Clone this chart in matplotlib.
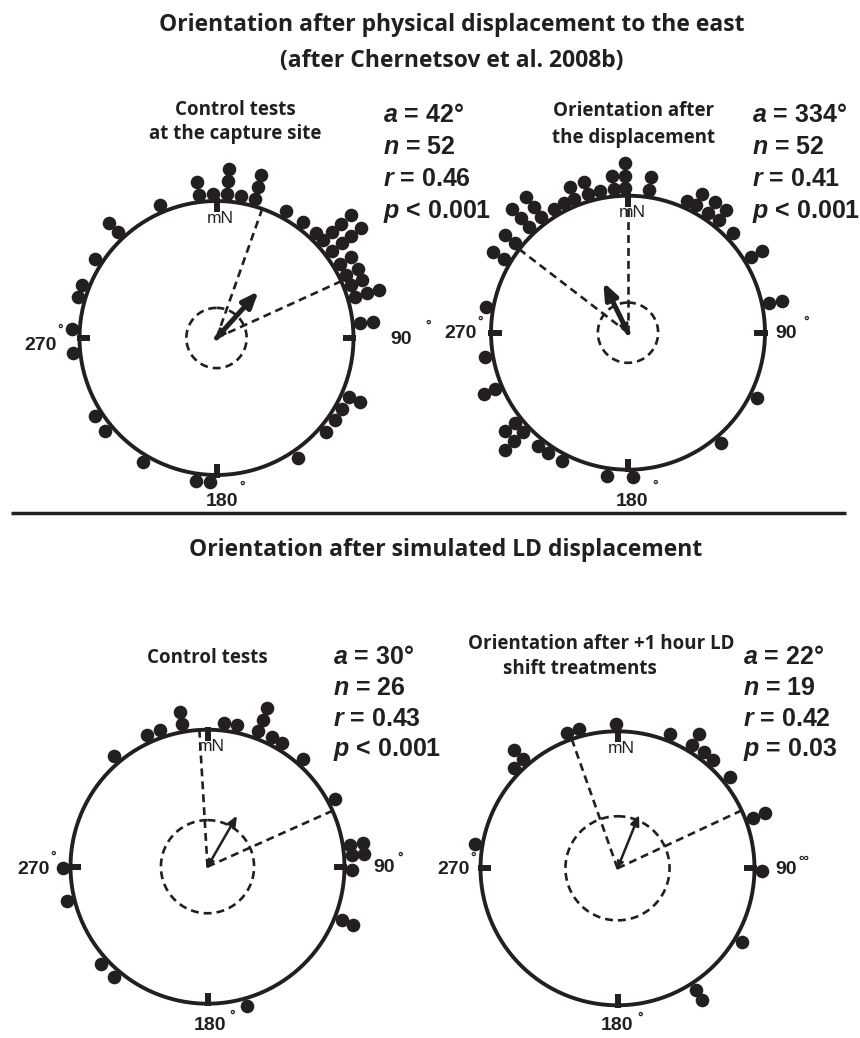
import numpy as np
import matplotlib.pyplot as plt

plt.rcParams['mathtext.fontset'] = 'custom'
plt.rcParams['mathtext.it'] = 'Liberation Sans:italic:bold'
plt.rcParams['mathtext.rm'] = 'Liberation Sans:bold'

ink = '#231f20'

# Stacked headings of individual birds: direction of each stack (deg) and number of birds in it
p1_dir = [303, 317, 337, 353, 358.7, 4.3, 9.8, 15.3, 28.7, 36.7, 43.4, 47.5, 52.8, 59, 64, 68.3,
          73.5, 84, 114, 119.5, 124.6, 130.7, 145.8, 182.7, 188, 210.7, 230.2, 237.2, 264,
          273.4, 286.5, 291.7]
p1_cnt = [1, 2, 1, 2, 1, 3, 1, 3, 1, 1, 1, 4, 4, 2, 2, 2,
          3, 2, 2, 1, 1, 1, 1, 1, 1, 1, 1, 1, 1,
          1, 1, 1]

p2_dir = [359, 354.3, 8.5, 348.9, 343.8, 338.2, 333.7, 329.2, 323, 317, 308.6, 300.8,
          23.9, 28.2, 33.8, 38.8, 46.5, 58.5, 78.2, 116.7, 139.9, 178.2, 188.3, 207.2,
          213.5, 218.6, 226.4, 231.3, 246.9, 260.4, 280.2]
p2_cnt = [3, 2, 2, 1, 2, 2, 1, 1, 3, 3, 2, 2,
          1, 2, 2, 2, 1, 2, 2, 1, 1, 1, 1, 1,
          1, 1, 3, 2, 2, 1, 1]

p3_dir = [319.7, 335.3, 340.7, 349.8, 6.6, 11.8, 20.6, 26.3, 31.2, 41.6, 62, 81.3, 85.5,
          91.3, 111.7, 164, 220.4, 227.7, 256.3, 269.4]
p3_cnt = [1, 1, 1, 2, 1, 1, 3, 1, 1, 1, 1, 2, 2,
          1, 2, 1, 1, 1, 1, 1]

p4_dir = [359.4, 344.4, 339.6, 319, 314.1, 21.3, 31.1, 36.6, 41.3, 51, 69.5, 90.9, 120.7,
          147.3, 279.7]
p4_cnt = [1, 1, 1, 2, 1, 1, 2, 1, 1, 1, 2, 1, 1,
          2, 1]

# Group statistics
mean_dir = [42, 334, 30, 22]
mean_r = [0.46, 0.41, 0.43, 0.42]
ci_lo = [19.5, 307.5, 356.6, 340.5]
ci_hi = [65.5, 360, 65.9, 65]
crit_r = [0.22, 0.22, 0.34, 0.38]
n_birds = [52, 52, 26, 19]
p_text = ['< 0.001', '< 0.001', '< 0.001', '= 0.03']
subtitles = [['Control tests', 'at the capture site'], ['Orientation after', 'the displacement'],
             ['Control tests'], ['Orientation after +1 hour LD', 'shift treatments']]

dirs = [p1_dir, p2_dir, p3_dir, p4_dir]
cnts = [p1_cnt, p2_cnt, p3_cnt, p4_cnt]

# Layout in pixels (figure is 860 x 1038)
W, H = 860, 1038
centers = [(216.5, 338), (628, 332.7), (207.5, 866.7), (617.5, 868.3)]
R = 137
stat_xy = [(383, 121.7, 32.2), (751.7, 121.7, 32.2), (333.3, 664, 30.8), (743.3, 664, 30.8)]
sub_xy = [[(235, 110), (235, 134)], [(634, 111), (634, 138)],
          [(207, 658)], [(601, 644), (580, 669)]]

fig = plt.figure(figsize=(8.6, 10.38), dpi=100)
bg = fig.add_axes([0, 0, 1, 1])
bg.set_xlim(0, W)
bg.set_ylim(H, 0)
bg.axis('off')

title_font = dict(family=['Open Sans', 'DejaVu Sans'], weight='bold', color=ink)
lab_font = dict(family=['Liberation Sans', 'DejaVu Sans'], weight='bold', color=ink)

bg.text(452, 25, 'Orientation after physical displacement to the east', fontsize=16.5,
        ha='center', va='center', **title_font)
bg.text(452, 61, '(after Chernetsov et al. 2008b)', fontsize=16.5, ha='center', va='center',
        **title_font)
bg.text(446, 550, 'Orientation after simulated LD displacement', fontsize=16.5,
        ha='center', va='center', **title_font)
bg.plot([11, 846], [512.7, 512.7], color=ink, lw=2.5, solid_capstyle='butt')

dash = (0, (3.0, 1.9))
full = np.linspace(0, 2 * np.pi, 400)

for i in range(4):
    cx, cy = centers[i]
    ax = fig.add_axes([(cx - R) / W, 1 - (cy + R) / H, 2 * R / W, 2 * R / H], projection='polar')
    ax.set_theta_zero_location('N')
    ax.set_theta_direction(-1)
    ax.axis('off')

    # outer circle and cardinal ticks
    ax.plot(full, np.ones_like(full), color=ink, lw=2.8, clip_on=False)
    for t in [0, 90, 180, 270]:
        ax.plot([np.deg2rad(t)] * 2, [0.92, 1.02], color=ink, lw=4.3, solid_capstyle='butt',
                clip_on=False)

    # stacked dots
    th, rr = [], []
    for d, c in zip(dirs[i], cnts[i]):
        for k in range(c):
            th.append(np.deg2rad(d))
            rr.append(1.055 + 0.091 * k)
    ax.plot(th, rr, 'o', ms=9.8, color=ink, mec='none', clip_on=False, zorder=5)

    # confidence interval lines and critical radius circle
    for t in [ci_lo[i], ci_hi[i]]:
        ax.plot([np.deg2rad(t)] * 2, [0, 1], color=ink, lw=1.9, ls=dash)
    ax.plot(full, np.full_like(full, crit_r[i]), color=ink, lw=1.9, ls=dash)

    # mean vector (with a small tail head at the centre)
    th_m = np.deg2rad(mean_dir[i])
    if i < 2:
        style, lw = '-|>,head_length=0.95,head_width=0.38', 3.6
        tail = '-|>,head_length=0.45,head_width=0.25'
    else:
        style, lw = '-|>,head_length=0.6,head_width=0.26', 1.8
        tail = '-|>,head_length=0.45,head_width=0.22'
    ax.annotate('', xy=(th_m, mean_r[i]), xytext=(0, 0),
                arrowprops=dict(arrowstyle=style, lw=lw, color=ink, shrinkA=0, shrinkB=0))
    ax.annotate('', xy=(0, 0), xytext=(th_m, 0.06),
                arrowprops=dict(arrowstyle=tail, lw=lw * 0.6, color=ink, shrinkA=0, shrinkB=0))

    ax.text(np.deg2rad(2), 0.875, 'mN', fontsize=12.5, ha='center', va='center',
            family=['Liberation Sans', 'DejaVu Sans'], color=ink)
    ax.set_ylim(0, 1)

    # statistics
    sx, sy, sdy = stat_xy[i]
    lines = [f'$a$ = {mean_dir[i]}°', f'$n$ = {n_birds[i]}', f'$r$ = {mean_r[i]:.2f}', f'$p$ {p_text[i]}']
    for k, s in enumerate(lines):
        bg.text(sx, sy + k * sdy, s, fontsize=18, ha='left', va='baseline', **lab_font)

    for s, (x, y) in zip(subtitles[i], sub_xy[i]):
        bg.text(x, y, s, fontsize=13.5, ha='center', va='center', **title_font)

# Cardinal degree labels (positions in pixels)
deg_lab = [
    ('270', 57, 345, 'right'), ('90', 390, 340, 'left'), ('180', 222, 502, 'center'),
    ('270', 477, 334, 'right'), ('90', 775, 334, 'left'), ('180', 632, 502, 'center'),
    ('270', 50, 870, 'right'), ('90', 373, 868, 'left'), ('180', 210, 1025, 'center'),
    ('270', 470, 870, 'right'), ('90', 775, 870, 'left'), ('180', 617.5, 1025, 'center'),
]
for s, x, y, ha in deg_lab:
    bg.text(x, y, s, fontsize=14, ha=ha, va='center', **lab_font)
deg_sign = [(60, 330, '°'), (428, 326, '°'), (242.5, 487, '°'),
            (480, 322, '°'), (806, 322, '°'), (655, 486, '°'),
            (53, 857, '°'), (400, 858, '°'), (231.7, 1016, '°'),
            (473, 858, '°'), (640, 1018, '°')]
for x, y, s in deg_sign:
    bg.text(x, y, s, fontsize=10, ha='center', va='center', **lab_font)
bg.text(803, 858, '∞', fontsize=10, ha='center', va='center', **lab_font)

fig.savefig('out.png', dpi=100)
